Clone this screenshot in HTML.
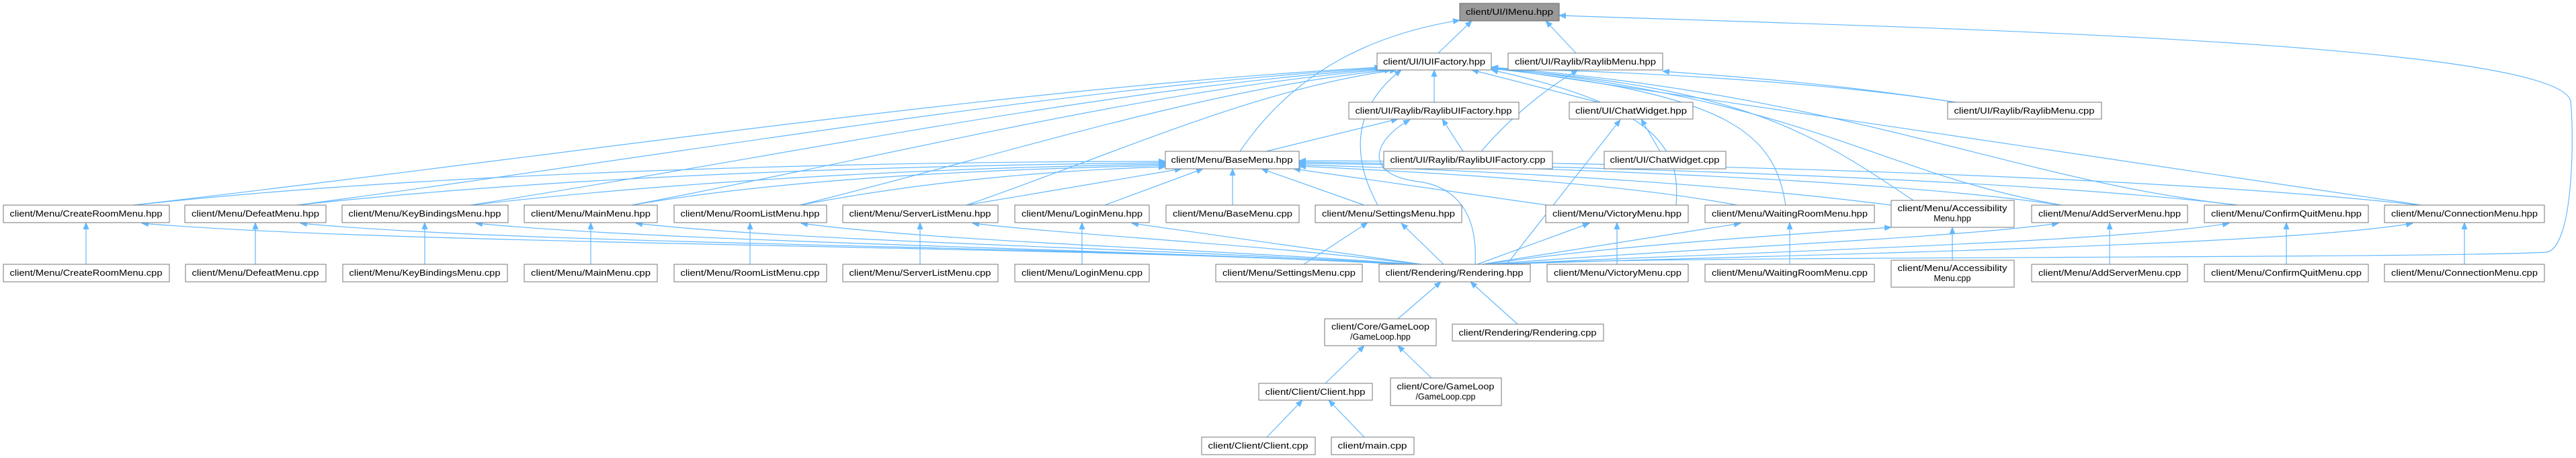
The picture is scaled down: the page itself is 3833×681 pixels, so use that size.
<!DOCTYPE html>
<html><head><meta charset="utf-8"><style>
html,body{margin:0;padding:0;background:#fff}
svg{display:block}
text{font-family:"Liberation Sans",sans-serif;font-size:12.5px;fill:#000}
.b{fill:#fff;stroke:#777;stroke-width:1}
.e{fill:none;stroke:#63b8ff;stroke-width:1.2}
</style></head><body>
<svg width="3833" height="681" viewBox="0 0 3833 681" xmlns="http://www.w3.org/2000/svg">
<defs><marker id="a" markerUnits="userSpaceOnUse" markerWidth="11" markerHeight="9" refX="10" refY="4.5" orient="auto"><path d="M0,0 L11,4.5 L0,9 z" fill="#63b8ff"/></marker></defs>
<g class="e" marker-end="url(#a)">
<path d="M2140,79 L2190,31"/>
<path d="M2345,79 L2300,31"/>
<path d="M1845,225 C1930,100 2050,50 2172,30"/>
<path d="M2240,393 C2400,380 3600,385 3790,375 C3830,365 3830,200 3825,150 C3800,60 2800,40 2320,23"/>
<path d="M2134,152 L2134,104"/>
<path d="M2378,152 L2190,104"/>
<path d="M2177,225 L2146,177"/>
<path d="M2204,225 C2260,160 2320,120 2348,104"/>
<path d="M1884,225 L2080,177"/>
<path d="M2470,225 L2442,177"/>
<path d="M2910,152 C2700,120 2400,105 2219,102"/>
<path d="M2910,152 C2700,120 2550,112 2474,106"/>
<path d="M2195,393 C2200,300 2150,275 2110,270 C2030,260 2040,210 2098,178"/>
<path d="M2242,393 L2411,178"/>
<path d="M199,305 C850,230 1502,130 2055,100"/>
<path d="M442,305 C1008,230 1575,130 2058,101"/>
<path d="M700,305 C1176,230 1652,130 2062,102"/>
<path d="M940,305 C1332,230 1724,130 2066,103"/>
<path d="M1190,305 C1494,230 1799,130 2070,104"/>
<path d="M1438,305 C1656,230 1873,130 2078,104"/>
<path d="M2050,305 C2020,250 2000,170 2085,104"/>
<path d="M2494,305 C2500,230 2480,160 2219,104"/>
<path d="M2657,305 C2640,200 2580,140 2219,102"/>
<path d="M2847,298 C2700,200 2600,130 2219,102"/>
<path d="M3068,305 C2800,260 2700,150 2219,100"/>
<path d="M3330,305 C3000,270 2750,140 2219,100"/>
<path d="M3603,305 L2219,100"/>
<path d="M199,305 C700,250 1400,240 1734,240"/>
<path d="M442,305 C900,255 1450,245 1734,242"/>
<path d="M700,305 C1100,260 1500,248 1734,244"/>
<path d="M940,305 C1200,260 1550,250 1734,246"/>
<path d="M1190,305 C1400,265 1600,252 1734,248"/>
<path d="M1438,305 L1758,251"/>
<path d="M1644,305 L1790,251"/>
<path d="M1834,305 L1834,251"/>
<path d="M2030,305 L1877,251"/>
<path d="M2302,305 L1925,251"/>
<path d="M2585,305 C2400,270 2100,255 1933,247"/>
<path d="M2814,305 C2500,265 2100,250 1933,245"/>
<path d="M3066,305 C2800,265 2200,245 1933,243"/>
<path d="M3330,305 C3000,265 2300,245 1933,241"/>
<path d="M3600,305 C3200,260 2400,240 1933,239"/>
<path d="M2085,393 C1600,365 600,365 211,332"/>
<path d="M2090,393 C1600,365 800,365 447,332"/>
<path d="M2095,393 C1600,368 1000,360 708,332"/>
<path d="M2100,393 C1700,368 1200,360 946,332"/>
<path d="M2105,393 C1800,370 1400,360 1192,332"/>
<path d="M2110,393 C1900,365 1600,350 1447,332"/>
<path d="M2115,393 L1684,332"/>
<path d="M2148,393 L2085,332"/>
<path d="M2198,393 L2365,332"/>
<path d="M2205,393 L2590,332"/>
<path d="M2210,393 C2400,365 2650,350 2814,338"/>
<path d="M2215,393 C2500,370 2900,355 3063,332"/>
<path d="M2220,393 C2600,375 3150,360 3317,332"/>
<path d="M2225,393 C2700,378 3400,365 3590,332"/>
<path d="M128,393 L128,331"/>
<path d="M380,393 L380,331"/>
<path d="M632,393 L632,331"/>
<path d="M879,393 L879,331"/>
<path d="M1116,393 L1116,331"/>
<path d="M1369,393 L1369,331"/>
<path d="M1610,393 L1610,331"/>
<path d="M1940,393 L2035,331"/>
<path d="M2406,393 L2406,331"/>
<path d="M2663,393 L2663,331"/>
<path d="M2905,387 L2905,338"/>
<path d="M3139,393 L3139,331"/>
<path d="M3402,393 L3402,331"/>
<path d="M3667,393 L3667,331"/>
<path d="M2080,474 L2144,419"/>
<path d="M2258,482 L2188,419"/>
<path d="M1972,570 L2030,514"/>
<path d="M2130,562 L2080,514"/>
<path d="M1885,650 L1938,595"/>
<path d="M2030,650 L1977,595"/>
</g>
<g>
<rect x="2172" y="5" width="148" height="26" fill="#999" stroke="#666"/><text x="2246" y="22" text-anchor="middle" textLength="130" lengthAdjust="spacingAndGlyphs">client/UI/IMenu.hpp</text>
<rect class="b" x="2049" y="79" width="170" height="25"/><text x="2134" y="96" text-anchor="middle" textLength="152" lengthAdjust="spacingAndGlyphs">client/UI/IUIFactory.hpp</text>
<rect class="b" x="2244" y="79" width="230" height="25"/><text x="2359" y="96" text-anchor="middle" textLength="210" lengthAdjust="spacingAndGlyphs">client/UI/Raylib/RaylibMenu.hpp</text>
<rect class="b" x="2007" y="152" width="253" height="25"/><text x="2133" y="169" text-anchor="middle" textLength="233" lengthAdjust="spacingAndGlyphs">client/UI/Raylib/RaylibUIFactory.hpp</text>
<rect class="b" x="2335" y="152" width="184" height="25"/><text x="2427" y="169" text-anchor="middle" textLength="166" lengthAdjust="spacingAndGlyphs">client/UI/ChatWidget.hpp</text>
<rect class="b" x="2898" y="152" width="229" height="25"/><text x="3012" y="169" text-anchor="middle" textLength="209" lengthAdjust="spacingAndGlyphs">client/UI/Raylib/RaylibMenu.cpp</text>
<rect class="b" x="1734" y="225" width="199" height="26"/><text x="1833" y="242" text-anchor="middle" textLength="181" lengthAdjust="spacingAndGlyphs">client/Menu/BaseMenu.hpp</text>
<rect class="b" x="2059" y="225" width="251" height="26"/><text x="2184" y="242" text-anchor="middle" textLength="231" lengthAdjust="spacingAndGlyphs">client/UI/Raylib/RaylibUIFactory.cpp</text>
<rect class="b" x="2387" y="225" width="181" height="26"/><text x="2477" y="242" text-anchor="middle" textLength="163" lengthAdjust="spacingAndGlyphs">client/UI/ChatWidget.cpp</text>

<rect class="b" x="5" y="305" width="247" height="26"/><text x="128" y="322" text-anchor="middle" textLength="227" lengthAdjust="spacingAndGlyphs">client/Menu/CreateRoomMenu.hpp</text>
<rect class="b" x="275" y="305" width="210" height="26"/><text x="380" y="322" text-anchor="middle" textLength="190" lengthAdjust="spacingAndGlyphs">client/Menu/DefeatMenu.hpp</text>
<rect class="b" x="509" y="305" width="247" height="26"/><text x="632" y="322" text-anchor="middle" textLength="227" lengthAdjust="spacingAndGlyphs">client/Menu/KeyBindingsMenu.hpp</text>
<rect class="b" x="780" y="305" width="198" height="26"/><text x="879" y="322" text-anchor="middle" textLength="178" lengthAdjust="spacingAndGlyphs">client/Menu/MainMenu.hpp</text>
<rect class="b" x="1003" y="305" width="227" height="26"/><text x="1116" y="322" text-anchor="middle" textLength="207" lengthAdjust="spacingAndGlyphs">client/Menu/RoomListMenu.hpp</text>
<rect class="b" x="1254" y="305" width="231" height="26"/><text x="1369" y="322" text-anchor="middle" textLength="211" lengthAdjust="spacingAndGlyphs">client/Menu/ServerListMenu.hpp</text>
<rect class="b" x="1510" y="305" width="200" height="26"/><text x="1610" y="322" text-anchor="middle" textLength="180" lengthAdjust="spacingAndGlyphs">client/Menu/LoginMenu.hpp</text>
<rect class="b" x="1735" y="305" width="198" height="26"/><text x="1834" y="322" text-anchor="middle" textLength="178" lengthAdjust="spacingAndGlyphs">client/Menu/BaseMenu.cpp</text>
<rect class="b" x="1957" y="305" width="218" height="26"/><text x="2066" y="322" text-anchor="middle" textLength="198" lengthAdjust="spacingAndGlyphs">client/Menu/SettingsMenu.hpp</text>
<rect class="b" x="2300" y="305" width="212" height="26"/><text x="2406" y="322" text-anchor="middle" textLength="192" lengthAdjust="spacingAndGlyphs">client/Menu/VictoryMenu.hpp</text>
<rect class="b" x="2537" y="305" width="252" height="26"/><text x="2663" y="322" text-anchor="middle" textLength="232" lengthAdjust="spacingAndGlyphs">client/Menu/WaitingRoomMenu.hpp</text>
<rect class="b" x="2814" y="298" width="183" height="40"/><text x="2905" y="314" text-anchor="middle" textLength="163" lengthAdjust="spacingAndGlyphs">client/Menu/Accessibility</text><text x="2905" y="329" text-anchor="middle">Menu.hpp</text>
<rect class="b" x="3023" y="305" width="232" height="26"/><text x="3139" y="322" text-anchor="middle" textLength="212" lengthAdjust="spacingAndGlyphs">client/Menu/AddServerMenu.hpp</text>
<rect class="b" x="3280" y="305" width="244" height="26"/><text x="3402" y="322" text-anchor="middle" textLength="224" lengthAdjust="spacingAndGlyphs">client/Menu/ConfirmQuitMenu.hpp</text>
<rect class="b" x="3548" y="305" width="238" height="26"/><text x="3667" y="322" text-anchor="middle" textLength="218" lengthAdjust="spacingAndGlyphs">client/Menu/ConnectionMenu.hpp</text>

<rect class="b" x="5" y="393" width="247" height="26"/><text x="128" y="410" text-anchor="middle" textLength="227" lengthAdjust="spacingAndGlyphs">client/Menu/CreateRoomMenu.cpp</text>
<rect class="b" x="276" y="393" width="209" height="26"/><text x="380" y="410" text-anchor="middle" textLength="189" lengthAdjust="spacingAndGlyphs">client/Menu/DefeatMenu.cpp</text>
<rect class="b" x="510" y="393" width="245" height="26"/><text x="632" y="410" text-anchor="middle" textLength="225" lengthAdjust="spacingAndGlyphs">client/Menu/KeyBindingsMenu.cpp</text>
<rect class="b" x="780" y="393" width="198" height="26"/><text x="879" y="410" text-anchor="middle" textLength="178" lengthAdjust="spacingAndGlyphs">client/Menu/MainMenu.cpp</text>
<rect class="b" x="1003" y="393" width="227" height="26"/><text x="1116" y="410" text-anchor="middle" textLength="207" lengthAdjust="spacingAndGlyphs">client/Menu/RoomListMenu.cpp</text>
<rect class="b" x="1254" y="393" width="231" height="26"/><text x="1369" y="410" text-anchor="middle" textLength="211" lengthAdjust="spacingAndGlyphs">client/Menu/ServerListMenu.cpp</text>
<rect class="b" x="1510" y="393" width="200" height="26"/><text x="1610" y="410" text-anchor="middle" textLength="180" lengthAdjust="spacingAndGlyphs">client/Menu/LoginMenu.cpp</text>
<rect class="b" x="1809" y="393" width="218" height="26"/><text x="1918" y="410" text-anchor="middle" textLength="198" lengthAdjust="spacingAndGlyphs">client/Menu/SettingsMenu.cpp</text>
<rect class="b" x="2052" y="393" width="225" height="26"/><text x="2164" y="410" text-anchor="middle" textLength="205" lengthAdjust="spacingAndGlyphs">client/Rendering/Rendering.hpp</text>
<rect class="b" x="2302" y="393" width="210" height="26"/><text x="2407" y="410" text-anchor="middle" textLength="190" lengthAdjust="spacingAndGlyphs">client/Menu/VictoryMenu.cpp</text>
<rect class="b" x="2537" y="393" width="252" height="26"/><text x="2663" y="410" text-anchor="middle" textLength="232" lengthAdjust="spacingAndGlyphs">client/Menu/WaitingRoomMenu.cpp</text>
<rect class="b" x="2814" y="387" width="183" height="40"/><text x="2905" y="403" text-anchor="middle" textLength="163" lengthAdjust="spacingAndGlyphs">client/Menu/Accessibility</text><text x="2905" y="418" text-anchor="middle">Menu.cpp</text>
<rect class="b" x="3023" y="393" width="232" height="26"/><text x="3139" y="410" text-anchor="middle" textLength="212" lengthAdjust="spacingAndGlyphs">client/Menu/AddServerMenu.cpp</text>
<rect class="b" x="3280" y="393" width="244" height="26"/><text x="3402" y="410" text-anchor="middle" textLength="224" lengthAdjust="spacingAndGlyphs">client/Menu/ConfirmQuitMenu.cpp</text>
<rect class="b" x="3548" y="393" width="238" height="26"/><text x="3667" y="410" text-anchor="middle" textLength="218" lengthAdjust="spacingAndGlyphs">client/Menu/ConnectionMenu.cpp</text>

<rect class="b" x="1971" y="474" width="166" height="40"/><text x="2054" y="490" text-anchor="middle" textLength="146" lengthAdjust="spacingAndGlyphs">client/Core/GameLoop</text><text x="2054" y="505" text-anchor="middle">/GameLoop.hpp</text>
<rect class="b" x="2161" y="482" width="225" height="25"/><text x="2273" y="499" text-anchor="middle" textLength="205" lengthAdjust="spacingAndGlyphs">client/Rendering/Rendering.cpp</text>
<rect class="b" x="1873" y="570" width="169" height="25"/><text x="1957" y="587" text-anchor="middle" textLength="149" lengthAdjust="spacingAndGlyphs">client/Client/Client.hpp</text>
<rect class="b" x="2069" y="562" width="165" height="41"/><text x="2151" y="579" text-anchor="middle" textLength="145" lengthAdjust="spacingAndGlyphs">client/Core/GameLoop</text><text x="2151" y="594" text-anchor="middle">/GameLoop.cpp</text>
<rect class="b" x="1788" y="650" width="169" height="26"/><text x="1872" y="667" text-anchor="middle" textLength="149" lengthAdjust="spacingAndGlyphs">client/Client/Client.cpp</text>
<rect class="b" x="1981" y="650" width="123" height="26"/><text x="2042" y="667" text-anchor="middle" textLength="103" lengthAdjust="spacingAndGlyphs">client/main.cpp</text>
</g>
</svg>
</body></html>
